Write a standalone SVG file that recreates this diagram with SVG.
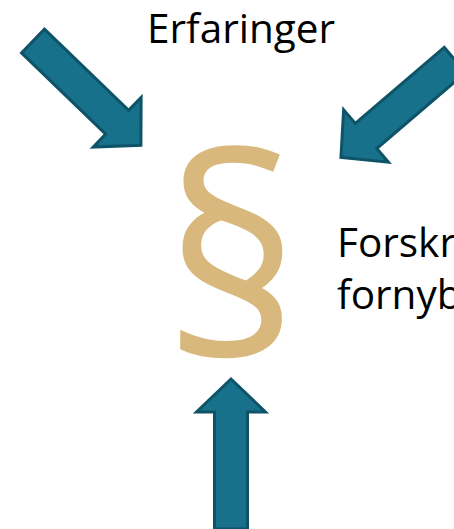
<svg xmlns="http://www.w3.org/2000/svg" width="454" height="529" viewBox="0 0 454 529">
<defs>
<style>
.arrow{fill:#17718B;stroke:#0E5368;stroke-width:3;stroke-linejoin:miter}
.lbl{font-family:"Open Sans","Noto Sans",sans-serif;font-size:40.5px;fill:#000}
.sec{font-family:"Open Sans","Noto Sans",sans-serif;font-size:250px;fill:#D9B87D}
</style>
<path id="arr" d="M0,-16.5 L117,-16.5 L117,-34.5 L150,0 L117,34.5 L117,16.5 L0,16.5 Z"/>
</defs>
<rect width="454" height="529" fill="#fff"/>
<g id="connectors">
<use href="#arr" class="arrow" transform="translate(33,41) rotate(44)"/>
<use href="#arr" class="arrow" transform="translate(455,60) rotate(139.5)"/>
<use href="#arr" class="arrow" transform="translate(231,529) rotate(-90)"/>
</g>
<g id="section">
<text class="sec" x="0" y="0" text-anchor="middle" transform="translate(232.5,357) scale(1.06,1.108)">§</text>
</g>
<g id="erfaringer">
<text class="lbl" x="147" y="43">Erfaringer</text>
</g>
<g id="forskrift">
<text class="lbl" x="337" y="257">Forskr</text>
<text class="lbl" x="337" y="309">fornyb</text>
</g>
</svg>
